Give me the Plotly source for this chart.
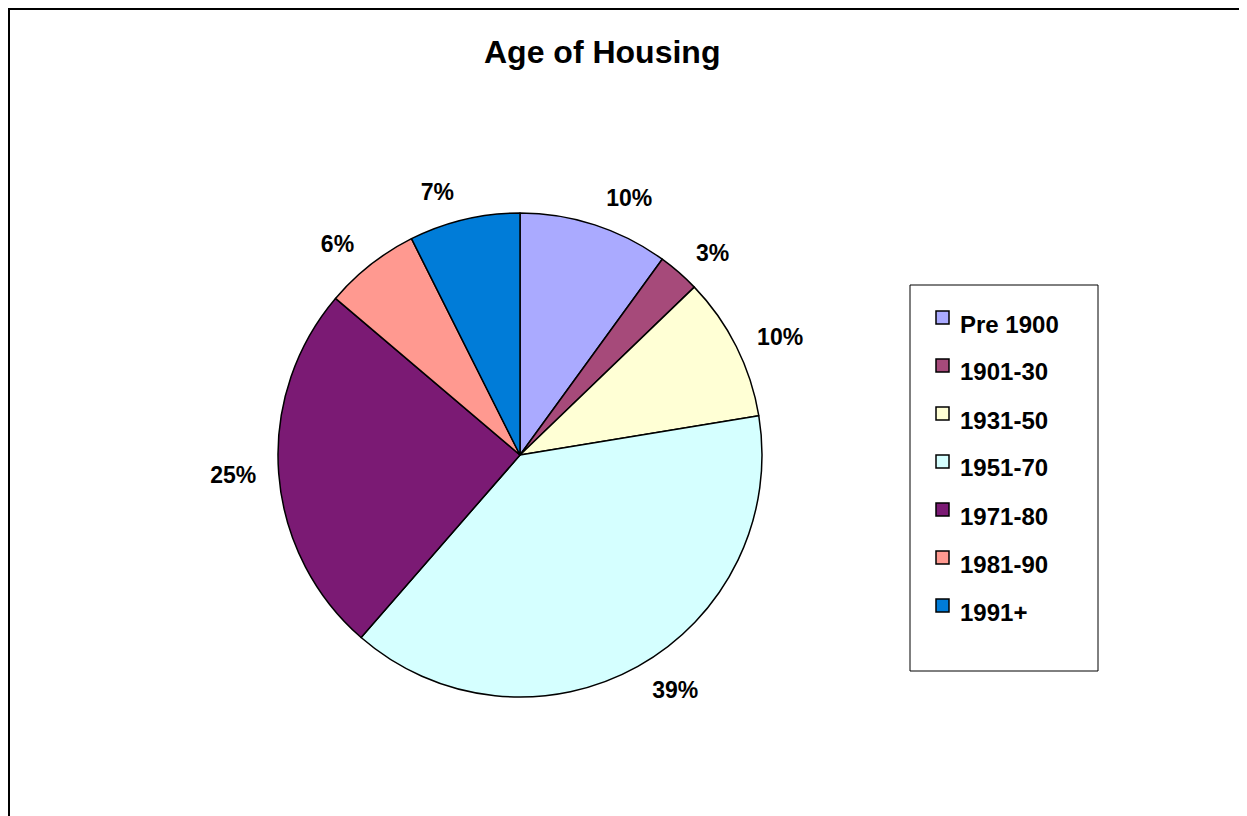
import plotly.graph_objects as go

# the page body adds an 8px margin, so screen pixel (x, y) maps to figure (x-8, y-8)
OFF = 8
W, H = 1239, 808

categories = ["Pre 1900", "1901-30", "1931-50", "1951-70", "1971-80", "1981-90", "1991+"]
shares = [10.0, 2.8, 9.6, 39.0, 24.8, 6.4, 7.4]
colors = ["#AAAAFF", "#A64A7A", "#FFFFD5", "#D5FFFF", "#7B1A74", "#FF9990", "#007CD8"]
title_text = "Age of Housing"

FONT = "Liberation Sans, Arial, sans-serif"


def px(x):
    return (x - OFF) / W


def py(y):
    return 1 - (y - OFF) / H


def dom(cx, cy, half):
    return dict(x=[px(cx - half), px(cx + half)], y=[py(cy + half), py(cy - half)])


cx, cy = 520, 455
radius = 242
label_radius = 258

pie_common = dict(labels=categories, values=shares, sort=False,
                  direction="clockwise", rotation=0, showlegend=False)

# visible pie
fig = go.Figure(go.Pie(
    **pie_common,
    marker=dict(colors=colors, line=dict(color="black", width=1.5)),
    textinfo="none",
    domain=dom(cx, cy, radius),
    hoverinfo="label+percent",
))
# transparent companion pie that carries the percentage labels a bit further out
fig.add_trace(go.Pie(
    **pie_common,
    marker=dict(colors=["rgba(0,0,0,0)"] * len(categories), line=dict(width=0)),
    texttemplate="<b>%{percent:.0%}</b>",
    textposition="outside",
    textfont=dict(family=FONT, size=23, color="black"),
    domain=dom(cx, cy, label_radius),
    hoverinfo="skip",
))

shapes = []
annotations = []
# outer frame (bottom edge runs off the page)
shapes.append(dict(type="rect", xref="paper", yref="paper",
                   x0=px(8.5), x1=px(1245.5), y0=-0.1, y1=py(8.5),
                   line=dict(color="black", width=3), fillcolor="rgba(0,0,0,0)"))
# legend box
lx0, ly0, lx1, ly1 = 910, 285, 1098, 671
shapes.append(dict(type="rect", xref="paper", yref="paper",
                   x0=px(lx0), x1=px(lx1), y0=py(ly1), y1=py(ly0),
                   line=dict(color="black", width=1), fillcolor="white"))
row0, step = 324, 48
for i, (cat, col) in enumerate(zip(categories, colors)):
    yc = row0 + i * step
    shapes.append(dict(type="rect", xref="paper", yref="paper",
                       x0=px(936), x1=px(949), y0=py(yc), y1=py(yc - 13),
                       line=dict(color="black", width=1.5), fillcolor=col))
    annotations.append(dict(xref="paper", yref="paper", x=px(958), y=py(yc),
                            text="<b>" + cat + "</b>", showarrow=False,
                            xanchor="left", yanchor="middle",
                            font=dict(family=FONT, size=24, color="black")))

annotations.append(dict(xref="paper", yref="paper", x=px(602), y=py(52),
                        text="<b>" + title_text + "</b>", showarrow=False,
                        xanchor="center", yanchor="middle",
                        font=dict(family=FONT, size=32, color="black")))

fig.update_layout(
    width=W, height=H,
    margin=dict(l=0, r=0, t=0, b=0),
    paper_bgcolor="white", plot_bgcolor="white",
    shapes=shapes, annotations=annotations,
)

fig.write_html("out.html")
